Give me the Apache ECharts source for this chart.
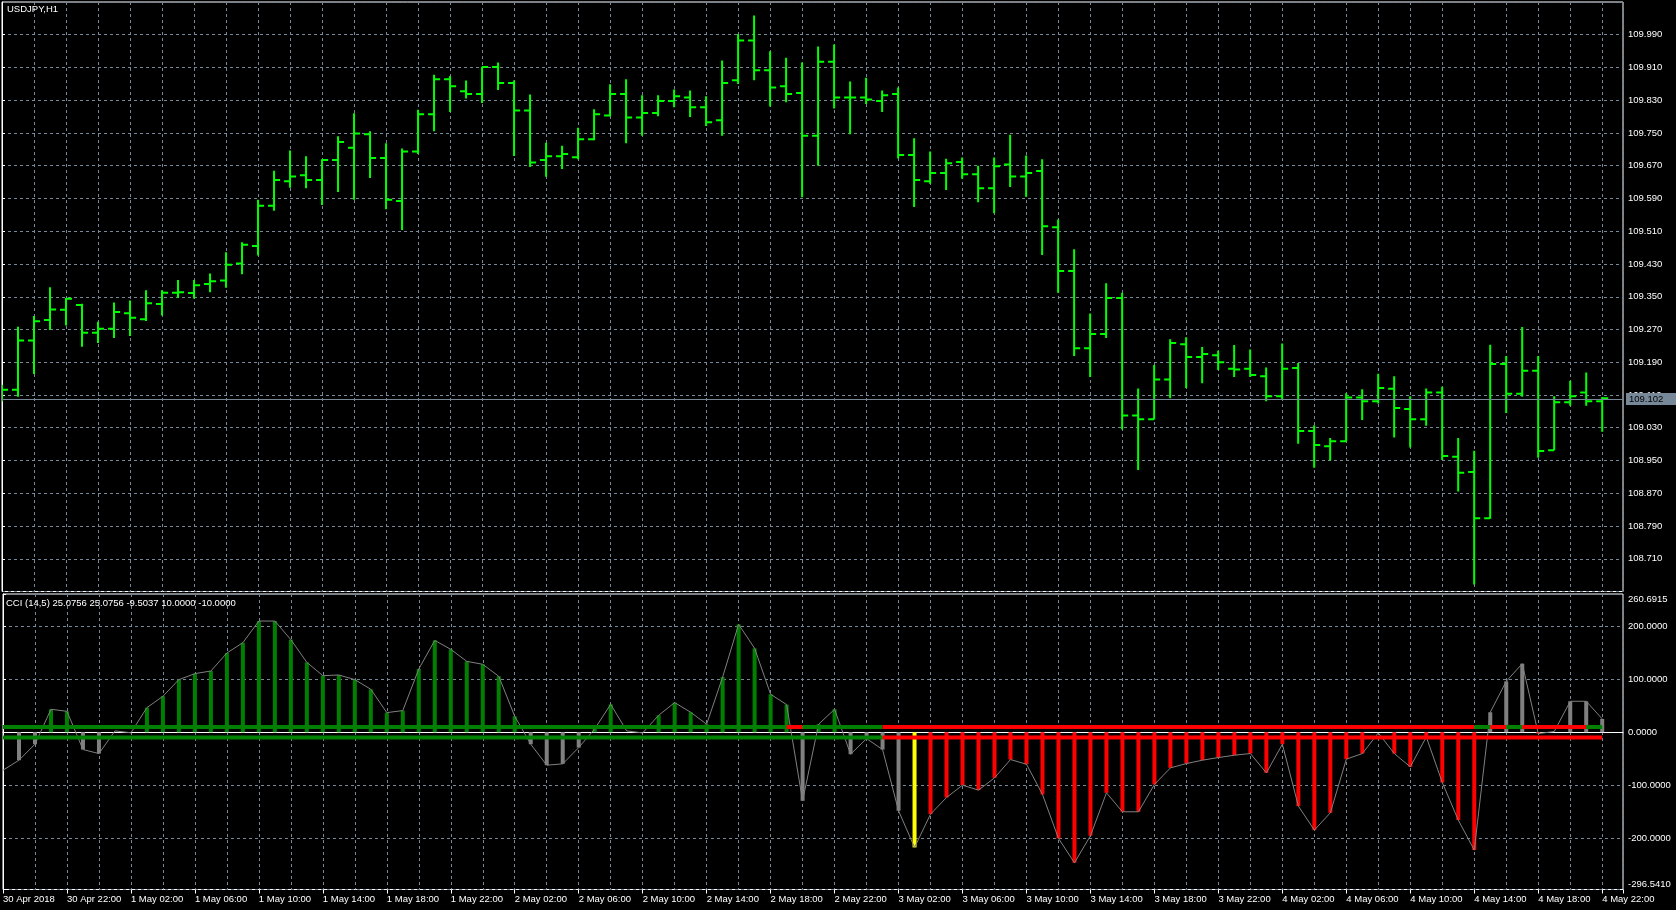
<!DOCTYPE html>
<html><head><meta charset="utf-8">
<script src="https://cdn.jsdelivr.net/npm/echarts@6/dist/echarts.min.js"></script>
<style>html,body{margin:0;padding:0;background:#000;}#c{width:1676px;height:910px;}</style>
</head><body><div id="c"></div>
<script>
// ---------- data ----------
const chartTitle = 'USDJPY,H1';
const cciTitle = 'CCI (14,5) 25.0756 25.0756 -9.5037 10.0000 -10.0000';
// one label every 4 bars (bar 0 = 30 Apr 18:00 ... bar 100 = 4 May 22:00)
const timeLabels = ['30 Apr 2018','30 Apr 22:00','1 May 02:00','1 May 06:00','1 May 10:00','1 May 14:00','1 May 18:00','1 May 22:00',
 '2 May 02:00','2 May 06:00','2 May 10:00','2 May 14:00','2 May 18:00','2 May 22:00','3 May 02:00','3 May 06:00','3 May 10:00',
 '3 May 14:00','3 May 18:00','3 May 22:00','4 May 02:00','4 May 06:00','4 May 10:00','4 May 14:00','4 May 18:00','4 May 22:00'];
const open = [109.110,109.123,109.243,109.293,109.318,109.330,109.262,109.272,109.310,109.295,
109.332,109.360,109.359,109.381,109.390,109.431,109.474,109.572,109.632,109.647,
109.635,109.684,109.714,109.747,109.689,109.584,109.705,109.796,109.881,109.852,
109.845,109.911,109.872,109.805,109.684,109.693,109.691,109.735,109.793,109.845,
109.788,109.799,109.828,109.837,109.813,109.781,109.879,109.976,109.903,109.864,
109.848,109.743,109.924,109.837,109.837,109.828,109.845,109.696,109.632,109.652,
109.679,109.649,109.615,109.673,109.644,109.657,109.520,109.413,109.224,109.259,
109.347,109.060,109.051,109.148,109.234,109.203,109.207,109.174,109.174,109.156,
109.107,109.176,109.022,108.985,108.997,109.104,109.095,109.125,109.076,109.051,
109.116,108.959,108.922,108.809,109.186,109.113,109.169,108.975,109.092,109.116,
109.095];
const high = [109.135,109.277,109.303,109.373,109.347,109.333,109.289,109.336,109.341,109.366,
109.366,109.391,109.391,109.407,109.459,109.483,109.587,109.658,109.707,109.693,
109.686,109.742,109.798,109.754,109.725,109.712,109.807,109.892,109.889,109.878,
109.912,109.922,109.878,109.844,109.726,109.719,109.763,109.808,109.869,109.881,
109.842,109.842,109.856,109.854,109.840,109.927,109.992,110.037,109.950,109.934,
109.922,109.961,109.966,109.876,109.885,109.854,109.861,109.737,109.705,109.687,
109.690,109.670,109.690,109.746,109.695,109.686,109.539,109.466,109.309,109.383,
109.360,109.126,109.183,109.246,109.251,109.227,109.218,109.232,109.221,109.177,
109.236,109.188,109.036,109.005,109.114,109.124,109.162,109.156,109.107,109.126,
109.130,109.005,108.974,109.233,109.205,109.276,109.205,109.107,109.145,109.165,
109.105];
const low = [109.095,109.106,109.161,109.269,109.280,109.228,109.237,109.249,109.254,109.291,
109.304,109.347,109.346,109.361,109.372,109.405,109.451,109.560,109.616,109.615,
109.574,109.606,109.587,109.640,109.564,109.513,109.699,109.754,109.801,109.834,
109.823,109.855,109.694,109.667,109.643,109.662,109.686,109.732,109.791,109.725,
109.743,109.791,109.813,109.789,109.767,109.743,109.870,109.879,109.815,109.825,
109.593,109.670,109.810,109.747,109.821,109.801,109.688,109.569,109.626,109.611,
109.638,109.581,109.554,109.618,109.594,109.452,109.360,109.205,109.154,109.249,
109.026,108.927,109.050,109.102,109.127,109.139,109.171,109.154,109.154,109.095,
109.100,108.991,108.932,108.950,108.997,109.049,109.089,109.006,108.982,109.035,
108.951,108.874,108.647,108.808,109.066,109.106,108.957,108.975,109.084,109.084,
109.020];
const close = [109.123,109.243,109.290,109.319,109.345,109.262,109.272,109.313,109.299,109.334,
109.360,109.361,109.378,109.388,109.428,109.477,109.572,109.635,109.644,109.635,
109.684,109.728,109.749,109.689,109.587,109.705,109.796,109.881,109.864,109.845,
109.911,109.872,109.805,109.678,109.693,109.699,109.735,109.796,109.845,109.788,
109.799,109.828,109.840,109.813,109.776,109.872,109.976,109.903,109.861,109.845,
109.743,109.924,109.837,109.837,109.832,109.842,109.696,109.635,109.652,109.676,
109.649,109.615,109.669,109.644,109.652,109.522,109.413,109.224,109.259,109.347,
109.060,109.051,109.148,109.237,109.203,109.210,109.190,109.172,109.159,109.107,
109.174,109.022,108.988,108.997,109.104,109.095,109.127,109.078,109.051,109.116,
108.961,108.920,108.809,109.186,109.113,109.169,108.973,109.092,109.107,109.095,
109.102];
const lastPrice = 109.102;
const cci = [-71.6,-52.7,-22.6,43.3,39.5,-32.6,-40.2,2.5,-1.0,46.4,
67.8,99.2,110.5,115.5,149.4,168.9,209.7,209.7,174.5,131.8,
106.7,108.0,99.2,81.0,37.0,40.8,119.3,173.2,156.3,133.7,
128.1,105.5,30.1,-22.6,-62.1,-59.6,-28.9,6.3,52.7,2.5,
-1.3,32.0,55.9,37.7,15.1,104.2,203.4,158.2,71.6,52.1,
-129.3,15.1,43.3,-41.4,-12.0,-32.6,-148.1,-217.2,-154.4,-123.0,
-99.8,-109.2,-86.0,-51.5,-60.3,-117.4,-200.2,-246.1,-195.2,-114.2,
-150.0,-150.0,-98.5,-67.2,-59.0,-52.7,-47.7,-43.3,-40.2,-76.6,
-22.6,-139.3,-184.5,-151.9,-50.8,-40.2,-1.3,-40.2,-65.3,-8.8,
-94.8,-165.7,-222.2,37.7,96.0,129.3,-2.5,1.3,58.4,58.4,
25.0756];
// histogram colour per bar: g=green, x=grey, r=red, y=yellow, -=none
const histColor = ['-','x','x','g','g','x','x','-','-','g',
'g','g','g','g','g','g','g','g','g','g',
'g','g','g','g','g','g','g','g','g','g',
'g','g','g','x','x','x','x','g','g','-',
'-','g','g','g','g','g','g','g','g','g',
'x','g','g','x','x','x','x','y','r','r',
'r','r','r','r','r','r','r','r','r','r',
'r','r','r','r','r','r','r','r','r','r',
'r','r','r','r','r','r','-','r','r','r',
'r','r','r','x','x','x','r','-','x','x',
'x'];
const levels = [10, -10];
// coloured runs of the two level lines: [fromBar, toBar, colour]
const upperRuns = [[0,49,'g'],[49,50,'r'],[50,55,'g'],[55,92,'r'],[92,93,'g'],[93,94,'r'],[94,95,'g'],[95,99,'r'],[99,100,'g']];
const lowerRuns = [[0,55,'g'],[55,100,'r']];

// ---------- styles ----------
const FONT = "'Liberation Sans', Arial, sans-serif";
const FS = 9.5;
const BAR = '#00ff00';
const GRIDC = '#778899';
const PAL = {g:'#008000', x:'#808080', r:'#ff0000', y:'#ffff00'};
const XMAX = 101.3;

const ohlcData = open.map((o,i)=>[i, o, high[i], low[i], close[i]]);
const histData = [];
cci.forEach((v,i)=>{ if (histColor[i] !== '-') histData.push({value:[i,v], itemStyle:{color:PAL[histColor[i]]}}); });
const segData = [], segColor = [];
upperRuns.forEach(r=>{ segData.push([r[0], r[1], levels[0]]); segColor.push(r[2]); });
lowerRuns.forEach(r=>{ segData.push([r[0], r[1], levels[1]]); segColor.push(r[2]); });

function renderOHLC(params, api) {
  const x = api.value(0);
  const o = api.coord([x, api.value(1)]);
  const h = api.coord([x, api.value(2)]);
  const l = api.coord([x, api.value(3)]);
  const c = api.coord([x, api.value(4)]);
  const st = {stroke: BAR, lineWidth: 2};
  return {type:'group', children:[
    {type:'line', shape:{x1:h[0], y1:h[1], x2:l[0], y2:l[1]}, style:st},
    {type:'line', shape:{x1:o[0]-6, y1:o[1], x2:o[0], y2:o[1]}, style:st},
    {type:'line', shape:{x1:c[0], y1:c[1], x2:c[0]+6, y2:c[1]}, style:st}
  ]};
}
function renderSeg(params, api) {
  const p1 = api.coord([api.value(0), api.value(2)]);
  const p2 = api.coord([api.value(1), api.value(2)]);
  return {type:'line', shape:{x1:p1[0], y1:p1[1], x2:p2[0], y2:p2[1]},
          style:{stroke: PAL[segColor[params.dataIndex]], lineWidth:4}};
}

const dashed = {show:true, lineStyle:{color:GRIDC, type:[3,3], width:1}};
const txt = {color:'#fff', fontFamily:FONT, fontSize:FS};

const option = {
  backgroundColor:'#000',
  animation:false,
  title:[
    {text:chartTitle, left:7, top:4, padding:0, textStyle:Object.assign({fontWeight:'normal'}, txt)},
    {text:cciTitle, left:6, top:598, padding:0, textStyle:Object.assign({fontWeight:'normal'}, txt)}
  ],
  grid:[
    {left:2, top:2, width:1621, height:589.5, show:true, borderColor:'#fff', borderWidth:1, backgroundColor:'#000'},
    {left:2, top:594, width:1621, height:295.5, show:true, borderColor:'#fff', borderWidth:1, backgroundColor:'#000'}
  ],
  xAxis:[
    {gridIndex:0, type:'value', min:0, max:XMAX, interval:2, position:'bottom',
     axisLine:{show:false}, axisTick:{show:false}, axisLabel:{show:false}, splitLine:dashed},
    {gridIndex:1, type:'value', min:0, max:XMAX, interval:2, position:'bottom',
     axisLine:{show:true, lineStyle:{color:'#fff'}}, axisTick:{show:false}, axisLabel:{show:false}, splitLine:dashed},
    {gridIndex:1, type:'value', min:0, max:XMAX, interval:4, position:'bottom',
     axisLine:{show:false}, axisTick:{show:true, length:4, lineStyle:{color:'#fff'}},
     splitLine:{show:false},
     axisLabel:Object.assign({show:true, align:'left', margin:5, showMaxLabel:true, showMinLabel:true,
       formatter:(v)=>{ const k = Math.round(v); return (Math.abs(v-k)<1e-6 && k%4===0 && timeLabels[k/4]) ? timeLabels[k/4] : ''; }}, txt)}
  ],
  yAxis:[
    {gridIndex:0, type:'value', position:'right', min:108.63, max:110.07, interval:0.08,
     axisLine:{show:true, lineStyle:{color:'#fff'}}, axisTick:{show:true, length:3, lineStyle:{color:'#fff'}},
     axisLabel:Object.assign({margin:5, showMinLabel:false, showMaxLabel:false, formatter:(v)=>v.toFixed(3)}, txt),
     splitLine:dashed},
    {gridIndex:1, type:'value', position:'right', min:-296.541, max:260.6915, splitNumber:5,
     axisLine:{show:true, lineStyle:{color:'#fff'}}, axisTick:{show:true, length:3, lineStyle:{color:'#fff'}},
     axisLabel:Object.assign({margin:5, showMinLabel:true, showMaxLabel:true,
       verticalAlignMinLabel:'bottom', verticalAlignMaxLabel:'top',
       formatter:(v)=>v.toFixed(4)}, txt),
     splitLine:dashed}
  ],
  series:[
    {type:'line', name:'last', xAxisIndex:0, yAxisIndex:0, z:1, data:[[100, lastPrice]], symbol:'none',
     lineStyle:{opacity:0}, silent:true,
     markLine:{silent:true, symbol:['none','none'], animation:false,
       lineStyle:{color:GRIDC, width:1, type:'solid'},
       label:{show:true, position:'end', distance:3, formatter:()=>lastPrice.toFixed(3),
              backgroundColor:GRIDC, color:'#000', fontFamily:FONT, fontSize:FS, padding:[1,13,1,3]},
       data:[{yAxis:lastPrice}]}},
    {type:'custom', name:'USDJPY', xAxisIndex:0, yAxisIndex:0, z:3, clip:true,
     encode:{x:0, y:[1,2,3,4]}, data:ohlcData, renderItem:renderOHLC},
    {type:'bar', name:'hist', xAxisIndex:1, yAxisIndex:1, z:2, barWidth:4, data:histData},
    {type:'line', name:'CCI', xAxisIndex:1, yAxisIndex:1, z:3, data:cci.map((v,i)=>[i,v]),
     showSymbol:false, symbol:'none', lineStyle:{color:'#808080', width:1}},
    {type:'custom', name:'levels', xAxisIndex:1, yAxisIndex:1, z:4, clip:true,
     encode:{x:[0,1], y:2}, data:segData, renderItem:renderSeg}
  ]
};
const chart = echarts.init(document.getElementById('c'), null, {renderer:'canvas'});
chart.setOption(option);
</script></body></html>
